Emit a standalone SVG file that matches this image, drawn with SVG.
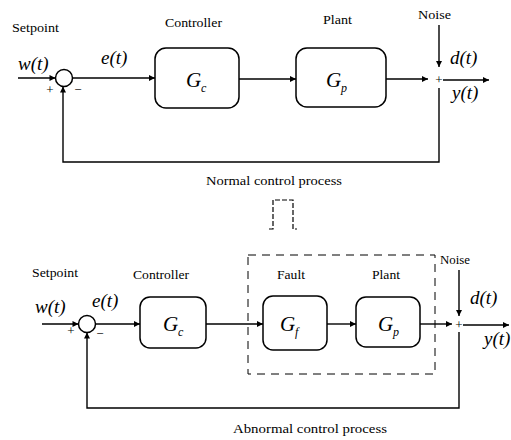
<svg xmlns="http://www.w3.org/2000/svg" width="511" height="440" viewBox="0 0 511 440">
<style>
.ln{fill:none;stroke:#000;stroke-width:1.4}
.bx{fill:#fff;stroke:#000;stroke-width:1.5}
.dash{fill:none;stroke:#000;stroke-width:1;stroke-dasharray:8,6}
text{font-family:'Liberation Serif','DejaVu Serif','Times New Roman',serif;fill:#000}
.lbl{font-size:13px}
.mth{font-style:italic;font-size:19px}
.g{font-style:italic;font-size:21px}
.sub{font-style:italic;font-size:12px}
.sgn{font-size:13px;text-anchor:middle}
</style>
<defs>
<marker id="arr" viewBox="0 0 10 10" refX="10" refY="5" markerWidth="9" markerHeight="6" markerUnits="userSpaceOnUse" orient="auto">
<path d="M0,0 L10,5 L0,10 z" fill="#000"/>
</marker>
</defs>
<rect width="511" height="440" fill="#fff"/>

<g id="connectors">
<path class="ln" d="M18,78 H55.5" marker-end="url(#arr)"/>
<path class="ln" d="M72.5,78 H155" marker-end="url(#arr)"/>
<path class="ln" d="M239,79 H296" marker-end="url(#arr)"/>
<path class="ln" d="M386,79 H428" marker-end="url(#arr)"/>
<path class="ln" d="M439,25 V67" marker-end="url(#arr)"/>
<path class="ln" d="M443,80 H489" marker-end="url(#arr)"/>
<path class="ln" d="M439,88 V162 H63 V86.5" marker-end="url(#arr)"/>

<path class="ln" d="M42,324 H78.5" marker-end="url(#arr)"/>
<path class="ln" d="M95.5,324 H140" marker-end="url(#arr)"/>
<path class="ln" d="M206,324 H263" marker-end="url(#arr)"/>
<path class="ln" d="M327,324 H356" marker-end="url(#arr)"/>
<path class="ln" d="M420,324 H452" marker-end="url(#arr)"/>
<path class="ln" d="M459,270 V316" marker-end="url(#arr)"/>
<path class="ln" d="M463,325 H509" marker-end="url(#arr)"/>
<path class="ln" d="M459,332 V408 H87 V332.5" marker-end="url(#arr)"/>

<path d="M269,229 H273 V200 H293 V229 H297" fill="none" stroke="#000" stroke-width="1.2" stroke-dasharray="5,2"/>
</g>

<g id="top-labels">
<text class="lbl" x="12" y="32" textLength="47" lengthAdjust="spacingAndGlyphs">Setpoint</text>
<text class="mth" x="18" y="70" font-size="18">w(t)</text>
<text class="mth" x="101" y="64">e(t)</text>
<text class="sgn" x="50" y="94">+</text>
<text class="sgn" x="78" y="94">−</text>
<text class="lbl" x="206" y="185" textLength="136" lengthAdjust="spacingAndGlyphs">Normal control process</text>
</g>

<g id="sum1"><circle cx="64" cy="78" r="8.5" class="bx"/></g>

<g id="controller1">
<text class="lbl" x="165" y="27" textLength="57" lengthAdjust="spacingAndGlyphs">Controller</text>
<rect class="bx" x="155" y="48" width="84" height="60" rx="11"/>
<text class="g" x="186" y="87">G</text><text class="sub" x="201" y="92">c</text>
</g>

<g id="plant1">
<text class="lbl" x="323" y="24" textLength="29" lengthAdjust="spacingAndGlyphs">Plant</text>
<rect class="bx" x="296" y="48" width="90" height="59" rx="11"/>
<text class="g" x="326" y="87">G</text><text class="sub" x="341" y="92">p</text>
</g>

<g id="noise1">
<text class="lbl" x="418" y="19" textLength="33" lengthAdjust="spacingAndGlyphs">Noise</text>
<text class="mth" x="450" y="64" font-size="20">d(t)</text>
<text class="sgn" x="439" y="84">+</text>
<text class="mth" x="452" y="99">y(t)</text>
</g>

<g id="bottom-labels">
<text class="lbl" x="32" y="277" textLength="46" lengthAdjust="spacingAndGlyphs">Setpoint</text>
<text class="mth" x="35" y="313" font-size="18">w(t)</text>
<text class="mth" x="92" y="307">e(t)</text>
<text class="sgn" x="71" y="335">+</text>
<text class="sgn" x="100" y="338">−</text>
<text class="lbl" x="233" y="433" textLength="154" lengthAdjust="spacingAndGlyphs">Abnormal control process</text>
</g>

<g id="sum2"><circle cx="87" cy="324" r="8.5" class="bx"/></g>

<g id="controller2">
<text class="lbl" x="133" y="279" textLength="56" lengthAdjust="spacingAndGlyphs">Controller</text>
<rect class="bx" x="140" y="297" width="66" height="51" rx="10"/>
<text class="g" x="163" y="331">G</text><text class="sub" x="178" y="336">c</text>
</g>

<g id="faultzone">
<rect class="dash" x="248" y="255" width="187" height="119"/>
</g>

<g id="fault">
<text class="lbl" x="277" y="279" textLength="28" lengthAdjust="spacingAndGlyphs">Fault</text>
<rect class="bx" x="263" y="296" width="64" height="54" rx="10"/>
<text class="g" x="280" y="331">G</text><text class="sub" x="295" y="336">f</text>
</g>

<g id="plant2">
<text class="lbl" x="372" y="279" textLength="28" lengthAdjust="spacingAndGlyphs">Plant</text>
<rect class="bx" x="356" y="297" width="64" height="50" rx="10"/>
<text class="g" x="378" y="331">G</text><text class="sub" x="393" y="336">p</text>
</g>

<g id="noise2">
<text class="lbl" x="440" y="264" textLength="30" lengthAdjust="spacingAndGlyphs">Noise</text>
<text class="mth" x="470" y="304" font-size="20">d(t)</text>
<text class="sgn" x="459" y="329">+</text>
<text class="mth" x="484" y="345">y(t)</text>
</g>
</svg>
